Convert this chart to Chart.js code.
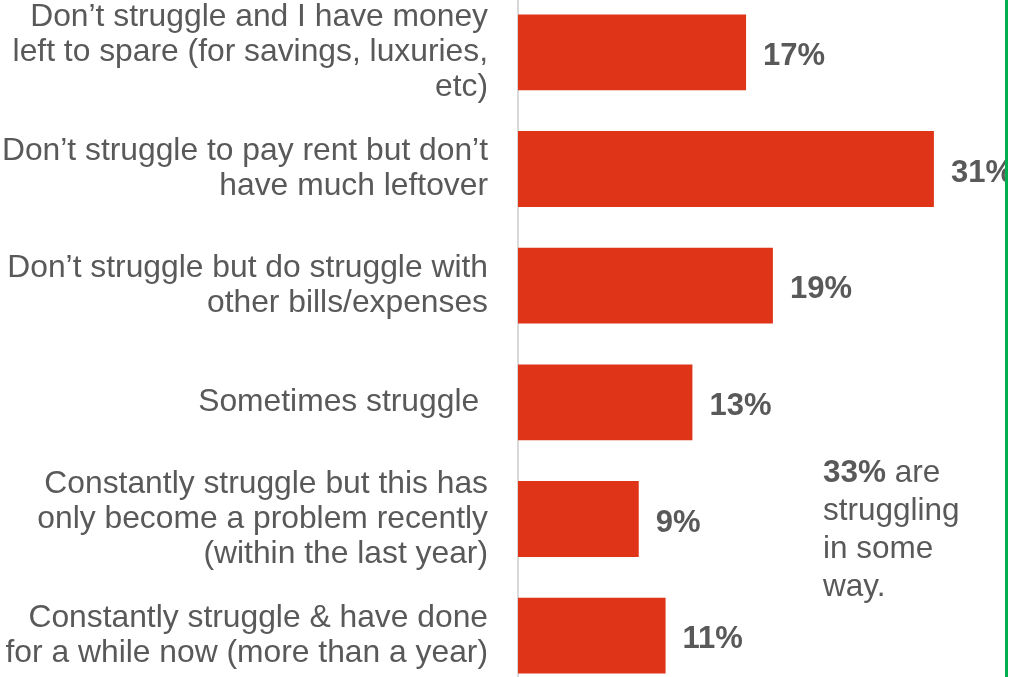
<!DOCTYPE html>
<html>
<head>
<meta charset="utf-8">
<script src="https://cdn.jsdelivr.net/npm/chart.js@4"></script>
<style>
  html, body { margin: 0; padding: 0; background: #fff; overflow: hidden; }
  body { width: 1009px; height: 677px; position: relative; font-family: "Liberation Sans", Arial, sans-serif; }
  #chartBox { position: absolute; left: 0; top: -6px; width: 1005px; height: 700px; }
  .divider { position: absolute; left: 1005px; top: 0; width: 3px; height: 677px; background: #00b050; }
  .note { position: absolute; left: 823px; top: 452px; font-size: 31.5px; line-height: 38px; color: #595959; }
</style>
</head>
<body>
<div id="chartBox"><canvas id="rentChart" width="1005" height="700"></canvas></div>
<div class="divider"></div>
<div class="note"><b>33%</b> are<br>struggling<br>in some<br>way.</div>
<script>
const answers = [
  ['Don’t struggle and I have money', 'left to spare (for savings, luxuries,', 'etc)'],
  ['Don’t struggle to pay rent but don’t', 'have much leftover'],
  ['Don’t struggle but do struggle with', 'other bills/expenses'],
  'Sometimes struggle ',
  ['Constantly struggle but this has', 'only become a problem recently', '(within the last year)'],
  ['Constantly struggle & have done', 'for a while now (more than a year)']
];
const shares = [17, 31, 19, 13, 9, 11];

const FONT = '"Liberation Sans", Arial, sans-serif';
const GREY = '#595959';

// percentage printed just past the end of each bar
const valueLabels = {
  id: 'valueLabels',
  afterDatasetsDraw(chart) {
    const ctx = chart.ctx;
    const meta = chart.getDatasetMeta(0);
    ctx.save();
    ctx.font = 'bold 31px ' + FONT;
    ctx.fillStyle = GREY;
    ctx.textAlign = 'left';
    ctx.textBaseline = 'middle';
    meta.data.forEach((bar, i) => {
      ctx.fillText(shares[i] + '%', bar.x + 17, bar.y + 4);
    });
    ctx.restore();
  }
};

new Chart(document.getElementById('rentChart'), {
  type: 'bar',
  data: {
    labels: answers,
    datasets: [{
      data: shares,
      backgroundColor: '#e03419',
      borderWidth: 0,
      barPercentage: 0.65,
      categoryPercentage: 1
    }]
  },
  options: {
    indexAxis: 'y',
    responsive: false,
    animation: false,
    layout: { padding: 0 },
    plugins: { legend: { display: false }, tooltip: { enabled: false } },
    scales: {
      x: {
        display: false,
        min: 0,
        max: 36.3
      },
      y: {
        // fixed label column; rows use the full canvas height
        afterFit: (scale) => {
          scale.width = 518;
          scale.paddingTop = 0;
          scale.paddingBottom = 0;
        },
        grid: { display: false, drawTicks: false },
        border: { display: true, color: '#d9d9d9', width: 2 },
        ticks: {
          autoSkip: false,
          padding: 30,
          color: GREY,
          font: { family: FONT, size: 31.8, lineHeight: 1.1 }
        }
      }
    }
  },
  plugins: [valueLabels]
});
</script>
</body>
</html>
